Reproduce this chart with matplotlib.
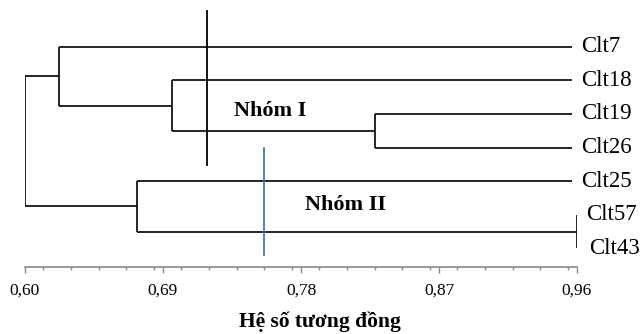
import matplotlib.pyplot as plt
from matplotlib.ticker import MultipleLocator, FuncFormatter

plt.rcParams['font.family'] = ['Liberation Serif', 'DejaVu Serif']

# leaves, top to bottom, and where each leaf line ends (similarity)
leaves = ["Clt7", "Clt18", "Clt19", "Clt26", "Clt25", "Clt57", "Clt43"]
leaf_end = [0.957, 0.957, 0.957, 0.957, 0.957, 0.96, 0.96]

# merges: (left child, right child, similarity level); children are leaf
# indices or "n<k>" for earlier merges
merges = [
    (2, 3, 0.828),       # n0: Clt19 + Clt26
    (1, "n0", 0.696),    # n1: Clt18 + n0
    (0, "n1", 0.622),    # n2: Clt7 + n1
    (5, 6, 0.960),       # n3: Clt57 + Clt43
    (4, "n3", 0.673),    # n4: Clt25 + n3
    ("n2", "n4", 0.600), # n5: root
]

cut_black = 0.719
cut_blue = 0.756
groups = ["Nhóm I", "Nhóm II"]
group_pos = [(0.760, 1.9), (0.809, 4.72)]

fig = plt.figure(figsize=(6.4, 3.34), dpi=100)
ax = fig.add_axes([25 / 640, (334 - 267) / 334, 552 / 640, 267 / 334])

lw = 1.2
pos = {}  # node -> (x, y)
for i, end in enumerate(leaf_end):
    pos[i] = (end, i)

for k, (a, b, s) in enumerate(merges):
    xa, ya = pos[a]
    xb, yb = pos[b]
    ax.plot([xa, s], [ya, ya], color="black", lw=lw, solid_capstyle="butt")
    ax.plot([xb, s], [yb, yb], color="black", lw=lw, solid_capstyle="butt")
    ax.plot([s, s], [ya, yb], color="black", lw=lw, solid_capstyle="butt")
    pos["n%d" % k] = (s, (ya + yb) / 2)

for i, name in enumerate(leaves):
    off = 0.0078 if i == 6 else 0.006
    ax.text(leaf_end[i] + off, i, name, fontsize=16.5, va="center", ha="left")

ax.plot([cut_black, cut_black], [-1.06, 3.52], color="black", lw=1.3)
ax.plot([cut_blue, cut_blue], [3.01, 6.2], color="#4472C4", lw=1.3)

for g, (gx, gy) in zip(groups, group_pos):
    ax.text(gx, gy, g, fontsize=16, fontweight="bold", ha="center", va="center")

ax.set_xlim(0.60, 0.96)
ax.set_ylim(6.556, -1.39)
ax.set_xticks([0.60, 0.69, 0.78, 0.87, 0.96])
ax.xaxis.set_minor_locator(MultipleLocator(0.018))
ax.xaxis.set_major_formatter(FuncFormatter(lambda v, p: ("%.2f" % v).replace(".", ",")))
ax.tick_params(axis="x", which="major", length=4, width=1, color="#888888",
               labelsize=12.5, pad=7)
ax.tick_params(axis="x", which="minor", length=2, width=1, color="#888888")
ax.set_yticks([])
for side in ["left", "top", "right"]:
    ax.spines[side].set_visible(False)
ax.spines["bottom"].set_color("#888888")
ax.spines["bottom"].set_linewidth(1.2)
ax.spines["bottom"].set_bounds(0.60, 0.96)
ax.set_xlabel("Hệ số tương đồng", fontsize=15.5, fontweight="bold")
ax.xaxis.set_label_coords(0.534, -0.206)
ax.xaxis.label.set_va("center")
ax.patch.set_alpha(0)

fig.savefig("out.png", dpi=100)
